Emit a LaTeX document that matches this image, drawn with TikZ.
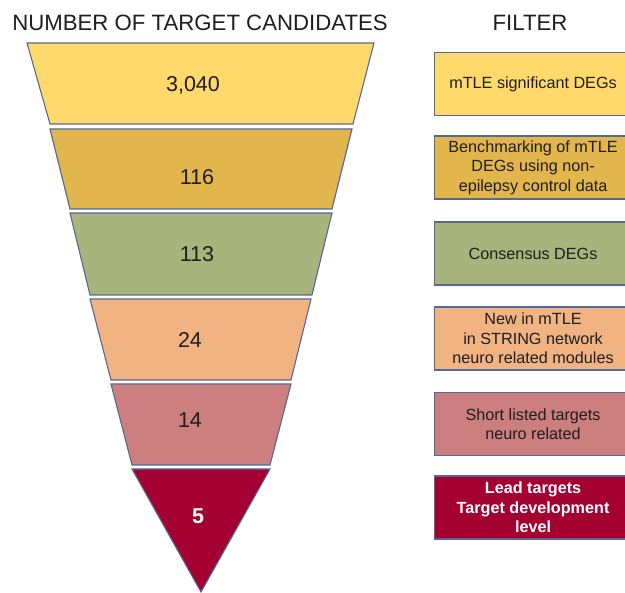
\documentclass[tikz,border=0pt]{standalone}
\usepackage{fontspec}
\setmainfont{Liberation Sans}
\definecolor{edgeblue}{RGB}{84,104,150}
\definecolor{ink}{RGB}{30,30,30}
\definecolor{stageA}{RGB}{255,217,107}
\definecolor{stageB}{RGB}{226,182,76}
\definecolor{stageC}{RGB}{169,179,124}
\definecolor{stageD}{RGB}{242,179,131}
\definecolor{stageE}{RGB}{205,126,126}
\definecolor{stageF}{RGB}{164,0,50}
\begin{document}
\begin{tikzpicture}[x=1pt,y=-1pt,
  stage/.style={draw=edgeblue, line width=1.1pt, line join=miter},
  count/.style={font=\fontsize{21.5}{24}\selectfont, text=ink},
  heading/.style={font=\fontsize{22.2}{24}\selectfont, text=ink},
  filterbox/.style={draw=edgeblue, line width=1.1pt, anchor=west,
    minimum width=197pt, minimum height=63pt, align=center, inner sep=0pt,
    font=\fontsize{16.2}{19.5}\selectfont, text=ink}]
\clip (0,0) rectangle (625,593);

% column headings
\node[heading] (hcount) at (200,23) {NUMBER OF TARGET CANDIDATES};
\node[heading] (hfilter) at (530,23) {FILTER};

% funnel stages
\draw[stage, fill=stageA] (27,43) -- (374,43) -- (353,124) -- (50,124) -- cycle;
\draw[stage, fill=stageB] (50,129) -- (352,129) -- (332,209) -- (70,209) -- cycle;
\draw[stage, fill=stageC] (70,213) -- (332,213) -- (312,295) -- (90,295) -- cycle;
\draw[stage, fill=stageD] (90,299) -- (311,299) -- (291,380) -- (111,380) -- cycle;
\draw[stage, fill=stageE] (111,384) -- (291,384) -- (270,465) -- (132,465) -- cycle;
\draw[stage, fill=stageF] (132,469) -- (270,469) -- (201,592) -- cycle;

% candidate counts
\node[count] (n1) at (193,85) {3,040};
\node[count] (n2) at (197,177) {116};
\node[count] (n3) at (197,254) {113};
\node[count] (n4) at (190,340) {24};
\node[count] (n5) at (190,420) {14};
\node[count, text=white, font=\bfseries\fontsize{21.5}{24}\selectfont] (n6) at (198,516) {5};

% filter boxes
\node[filterbox, fill=stageA] (f1) at (434,84) {mTLE significant DEGs};
\node[filterbox, fill=stageB] (f2) at (434,167.5) {Benchmarking of mTLE\\DEGs using non-\\epilepsy control data};
\node[filterbox, fill=stageC] (f3) at (434,253.5) {Consensus DEGs};
\node[filterbox, fill=stageD] (f4) at (434,338.5) {New in mTLE\\in STRING network\\neuro related modules};
\node[filterbox, fill=stageE] (f5) at (434,424) {Short listed targets\\neuro related};
\node[filterbox, fill=stageF, text=white, font=\bfseries\fontsize{16.2}{19.5}\selectfont] (f6) at (434,507.5) {Lead targets\\Target development\\level};
\end{tikzpicture}
\end{document}
